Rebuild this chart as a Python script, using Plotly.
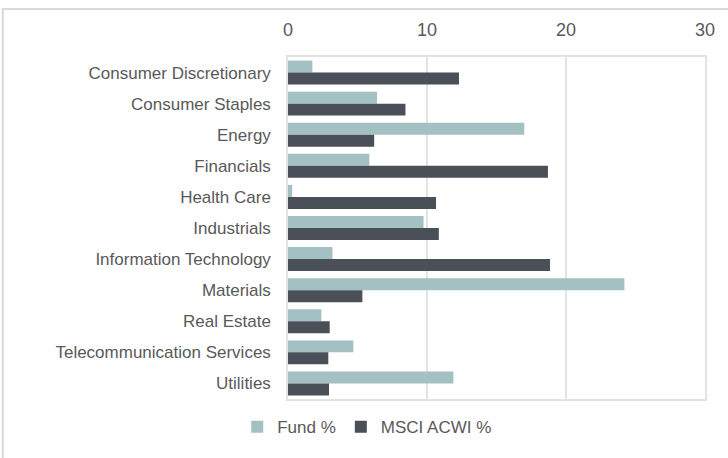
import plotly.graph_objects as go

categories = ["Consumer Discretionary", "Consumer Staples", "Energy", "Financials",
              "Health Care", "Industrials", "Information Technology", "Materials",
              "Real Estate", "Telecommunication Services", "Utilities"]
fund_pct = [1.75, 6.4, 17.0, 5.85, 0.3, 9.75, 3.2, 24.2, 2.4, 4.7, 11.9]
msci_pct = [12.3, 8.45, 6.2, 18.7, 10.65, 10.85, 18.85, 5.35, 3.0, 2.9, 2.95]
x_ticks = [0, 10, 20, 30]

FONT = "Liberation Sans, Arial, sans-serif"
TXT = "#595959"

fig = go.Figure()
fig.add_trace(go.Bar(y=categories, x=fund_pct, orientation="h", name="Fund %",
                     marker=dict(color="#a3c0c3", line=dict(width=0))))
fig.add_trace(go.Bar(y=categories, x=msci_pct, orientation="h", name="MSCI ACWI %",
                     marker=dict(color="#4b4f58", line=dict(width=0))))

fig.update_layout(
    width=728, height=458,
    margin=dict(l=288, r=23, t=57, b=59),
    paper_bgcolor="white", plot_bgcolor="white",
    barmode="group", bargap=0.23, bargroupgap=0,
    font=dict(family=FONT, size=17, color=TXT),
    xaxis=dict(side="top", range=[0, 30], tickvals=x_ticks, showgrid=True,
               gridcolor="#e3e3e3", gridwidth=1.5, zeroline=False,
               showline=True, linecolor="#e3e3e3", linewidth=1.5, mirror=True,
               ticks="", ticklabelstandoff=12, tickfont=dict(size=18, color=TXT)),
    yaxis=dict(autorange="reversed", showgrid=False, showline=True,
               linecolor="#e3e3e3", linewidth=1.5, mirror=True, ticks="",
               ticklabelstandoff=12, tickfont=dict(size=17, color=TXT)),
    legend=dict(orientation="h", x=0.19, xanchor="center", y=-0.03, yanchor="top",
                font=dict(size=17, color=TXT), itemwidth=30,
                bgcolor="rgba(0,0,0,0)"),
    showlegend=True,
)

fig.add_shape(type="rect", xref="paper", yref="paper",
              x0=-0.684, x1=1.2, y0=-0.3, y1=1.14,
              line=dict(color="#d9d9d9", width=2), fillcolor="rgba(0,0,0,0)",
              layer="below")

fig.write_html("out.html")
